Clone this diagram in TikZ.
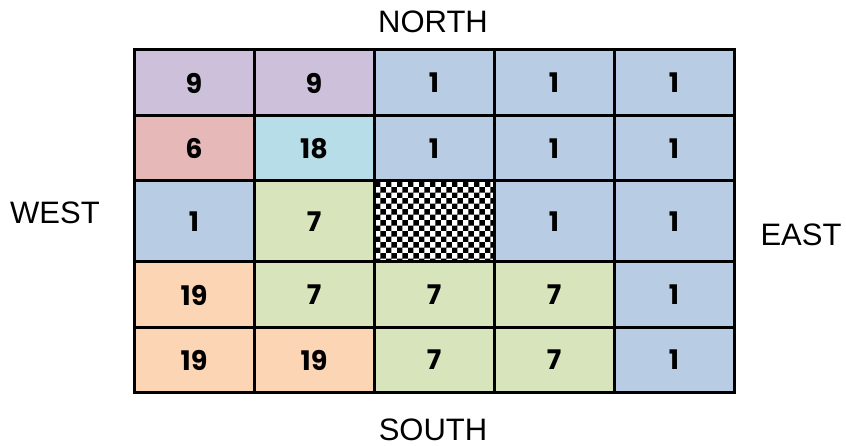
\documentclass[tikz,border=0pt]{standalone}
\usepackage{fontspec}
\setmainfont{Liberation Sans}
\newfontfamily\numfont{Poppins}
\usetikzlibrary{patterns}
\definecolor{cpurple}{HTML}{CCC0DA}
\definecolor{cred}{HTML}{E6B8B7}
\definecolor{ccyan}{HTML}{B7DEE8}
\definecolor{cblue}{HTML}{B8CCE4}
\definecolor{cgreen}{HTML}{D8E4BC}
\definecolor{corange}{HTML}{FCD5B4}
\tikzset{
  cellbox/.style={draw=black, line width=3pt, inner sep=0pt, minimum width=120pt,
    font=\numfont\bfseries\fontsize{27}{27}\selectfont, text=black},
  dirlabel/.style={font=\fontsize{31}{31}\selectfont, inner sep=0pt}
}
\begin{document}
\begin{tikzpicture}[x=1pt,y=-1pt]
\useasboundingbox (0,0) rectangle (846,446);
% row bounds: 50,116,181,262,328,392 ; columns 134..734 step 120
\def\rowA{83}\def\hA{66}
\def\rowB{148.5}\def\hB{65}
\def\rowC{221.5}\def\hC{81}
\def\rowD{295}\def\hD{66}
\def\rowE{360}\def\hE{64}
% row 1
\node[cellbox, fill=cpurple, minimum height=\hA pt] (c11) at (194,\rowA) {9};
\node[cellbox, fill=cpurple, minimum height=\hA pt] (c12) at (314,\rowA) {9};
\node[cellbox, fill=cblue, minimum height=\hA pt] (c13) at (434,\rowA) {1};
\node[cellbox, fill=cblue, minimum height=\hA pt] (c14) at (554,\rowA) {1};
\node[cellbox, fill=cblue, minimum height=\hA pt] (c15) at (674,\rowA) {1};
% row 2
\node[cellbox, fill=cred, minimum height=\hB pt] (c21) at (194,\rowB) {6};
\node[cellbox, fill=ccyan, minimum height=\hB pt] (c22) at (314,\rowB) {18};
\node[cellbox, fill=cblue, minimum height=\hB pt] (c23) at (434,\rowB) {1};
\node[cellbox, fill=cblue, minimum height=\hB pt] (c24) at (554,\rowB) {1};
\node[cellbox, fill=cblue, minimum height=\hB pt] (c25) at (674,\rowB) {1};
% row 3
\node[cellbox, fill=cblue, minimum height=\hC pt] (c31) at (194,\rowC) {1};
\node[cellbox, fill=cgreen, minimum height=\hC pt] (c32) at (314,\rowC) {7};
\node[cellbox, preaction={fill=white}, pattern=checkerboard, pattern color=black, minimum height=\hC pt] (c33) at (434,\rowC) {};
\node[cellbox, fill=cblue, minimum height=\hC pt] (c34) at (554,\rowC) {1};
\node[cellbox, fill=cblue, minimum height=\hC pt] (c35) at (674,\rowC) {1};
% row 4
\node[cellbox, fill=corange, minimum height=\hD pt] (c41) at (194,\rowD) {19};
\node[cellbox, fill=cgreen, minimum height=\hD pt] (c42) at (314,\rowD) {7};
\node[cellbox, fill=cgreen, minimum height=\hD pt] (c43) at (434,\rowD) {7};
\node[cellbox, fill=cgreen, minimum height=\hD pt] (c44) at (554,\rowD) {7};
\node[cellbox, fill=cblue, minimum height=\hD pt] (c45) at (674,\rowD) {1};
% row 5
\node[cellbox, fill=corange, minimum height=\hE pt] (c51) at (194,\rowE) {19};
\node[cellbox, fill=corange, minimum height=\hE pt] (c52) at (314,\rowE) {19};
\node[cellbox, fill=cgreen, minimum height=\hE pt] (c53) at (434,\rowE) {7};
\node[cellbox, fill=cgreen, minimum height=\hE pt] (c54) at (554,\rowE) {7};
\node[cellbox, fill=cblue, minimum height=\hE pt] (c55) at (674,\rowE) {1};
% labels
\node[dirlabel] (north) at (433,22) {NORTH};
\node[dirlabel] (south) at (433,430) {SOUTH};
\node[dirlabel] (west) at (55,213) {WEST};
\node[dirlabel] (east) at (801,235) {EAST};
\end{tikzpicture}
\end{document}
